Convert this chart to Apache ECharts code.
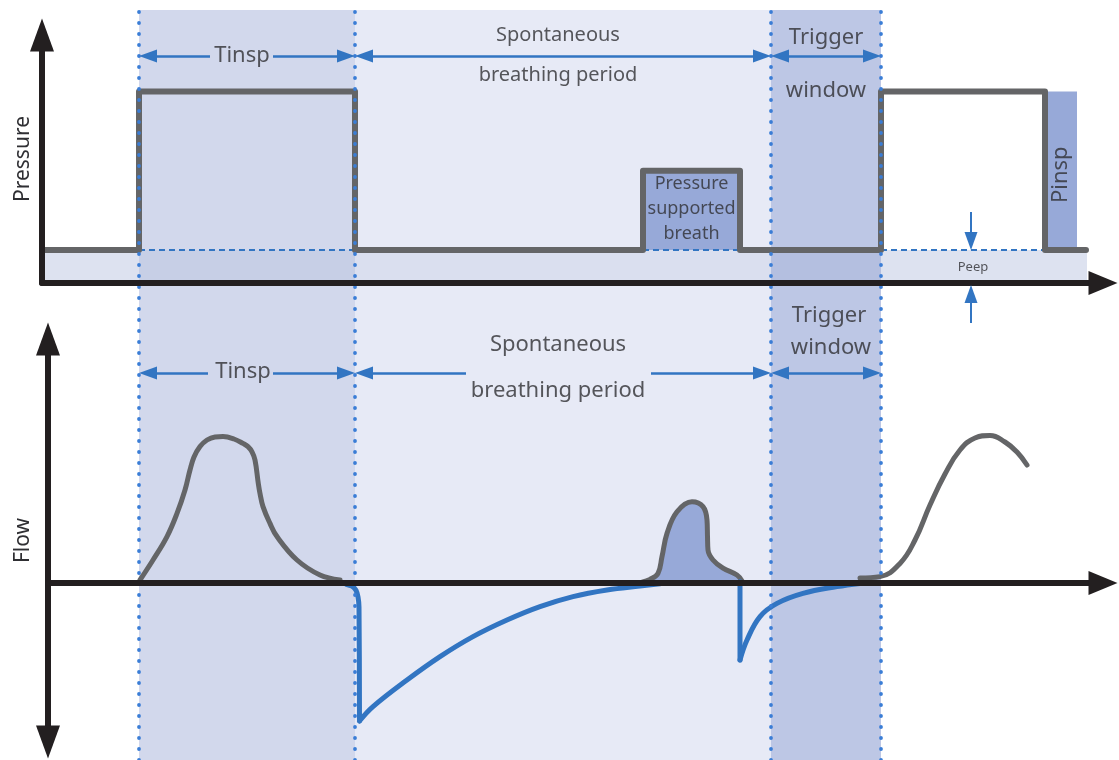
<!DOCTYPE html>
<html>
<head>
<meta charset="utf-8">
<title>Pressure and flow</title>
<script src="https://cdn.jsdelivr.net/npm/echarts@6/dist/echarts.min.js"></script>
<style>
html, body { margin: 0; padding: 0; background: #fff; }
#main { width: 1119px; height: 760px; }
</style>
</head>
<body>
<div id="main"></div>
<script>
// time in s, pressure in cmH2O, flow in L/min (schematic values)
var phaseEdges = [0.97, 3.13, 7.29, 8.39]; // Tinsp start, Tinsp end, trigger window start, trigger window end
var peep = 5;

var pressureT = [0.01, 0.97, 0.97, 3.13, 3.13, 6.01, 6.01, 6.98, 6.98, 8.39, 8.39, 10.03, 10.03, 10.44];
var pressureV = [5, 5, 29, 29, 5, 5, 17, 17, 5, 5, 29, 29, 5, 5];

var psBox = [6.01, 6.98, 17];     // pressure supported breath: from, to, level
var pinspBar = [10.03, 10.35, 29];
var peepBandEnd = 10.45;
var peepMarkT = 9.29;

var mandFlow = [[0.98, 0.75], [1.11, 5.75], [1.25, 11.6], [1.35, 17.4], [1.43, 23.25], [1.48, 28.25],
    [1.52, 31.5], [1.58, 34.1], [1.65, 35.75], [1.73, 36.5], [1.81, 36.6], [1.92, 36.0], [2.01, 34.9],
    [2.06, 34.1], [2.10, 32.8], [2.13, 30.75], [2.163, 24.9], [2.18, 22.4], [2.21, 19.1], [2.28, 14.9],
    [2.35, 11.6], [2.55, 5.75], [2.78, 2], [2.98, 0.75]];
var expDrop1 = [[3.04, -0.3], [3.10, -0.8], [3.14, -1.8], [3.16, -3.5], [3.17, -6], [3.175, -34.5]];
var expFlow1 = [[3.175, -34.5], [3.31, -30.9], [3.65, -24.25], [3.98, -18.4], [4.31, -13.4], [4.65, -9.25],
    [4.98, -5.9], [5.31, -3.4], [5.65, -1.75], [5.98, -0.75], [6.18, -0.2]];
var psFlow = [[6.0, 0.2], [6.08, 0.9], [6.16, 2.4], [6.20, 6.6], [6.25, 12.4], [6.35, 17.8], [6.50, 20.3],
    [6.61, 19.1], [6.65, 15.75], [6.655, 11.6], [6.66, 8.25], [6.71, 5.75], [6.81, 3.7], [6.95, 2], [7.0, 0.5]];
var expDrop2 = [[6.98, 0.3], [6.98, -19.25]];
var expFlow2 = [[6.98, -19.25], [7.05, -14.25], [7.18, -8.4], [7.35, -5.1], [7.61, -2.6], [7.95, -0.9], [8.18, -0.1]];
var nextFlow = [[8.18, 1.25], [8.38, 1.6], [8.58, 4.9], [8.73, 10.75], [8.88, 19.5], [9.03, 27.25], [9.18, 33.25],
    [9.33, 36.25], [9.48, 36.9], [9.63, 35.25], [9.75, 32.75], [9.85, 29.5]];

// annotation texts: [text, t, value]
var topNotes = [['Tinsp', 2.00, 34.5], ['Spontaneous', 5.16, 37.6], ['breathing period', 5.16, 31.4],
    ['Trigger', 7.84, 37.1], ['window', 7.84, 29.1]];
var flowNotes = [['Tinsp', 2.01, 52.75], ['Spontaneous', 5.16, 59.5], ['breathing period', 5.16, 48],
    ['Trigger', 7.87, 66.75], ['window', 7.89, 58.75]];

var ink = '#2f2f33', grey = '#646567', blue = '#3275c2', dotBlue = '#3a7dd6', fillBlue = '#97a9d8', axisInk = '#231f20';
var font = '"Noto Sans", "DejaVu Sans", sans-serif';
var pad = 0.09;     // half an arrow head along time
var pPad = 1.36;    // half an arrow head along pressure

var chart = echarts.init(document.getElementById('main'));

function pairs(xs, ys) {
    return xs.map(function (x, i) { return [x, ys[i]]; });
}

function axisLineOf(symbols, size) {
    return {
        show: true, onZero: true, symbol: symbols, symbolSize: size,
        lineStyle: { color: axisInk, width: 6, cap: 'round' }
    };
}

function arrowSpan(y, x1, x2, a1, a2) {
    return [
        { coord: [x1, y], symbol: a1 ? 'triangle' : 'none' },
        { coord: [x2, y], symbol: a2 ? 'triangle' : 'none' }
    ];
}

function arrowSeries(gridIdx, data) {
    return {
        type: 'line', xAxisIndex: gridIdx, yAxisIndex: gridIdx, data: [], z: 6, silent: true,
        markLine: {
            z: 6, silent: true, animation: false,
            symbolSize: [13, 18],
            label: { show: false },
            lineStyle: { color: blue, width: 2.5, type: 'solid' },
            emphasis: { disabled: true },
            data: data
        }
    };
}

function noteSeries(gridIdx, items) {
    return {
        type: 'scatter', xAxisIndex: gridIdx, yAxisIndex: gridIdx, z: 7, clip: false, silent: true,
        symbolSize: 1, itemStyle: { color: 'transparent' },
        label: {
            show: true, position: 'inside', formatter: '{b}', color: ink,
            fontFamily: font, fontSize: 22
        },
        data: items
    };
}

function noteItem(n, size, extra) {
    var item = { name: n[0], value: [n[1], n[2]], label: { fontSize: size } };
    if (extra) {
        for (var k in extra) item.label[k] = extra[k];
    }
    return item;
}

function flowLine(data, color, smooth, extra) {
    var s = {
        type: 'line', xAxisIndex: 1, yAxisIndex: 1, data: data, smooth: smooth,
        symbol: 'none', z: 5, silent: true, clip: false,
        lineStyle: { color: color, width: 5, cap: 'round', join: 'round' }
    };
    if (extra) {
        for (var k in extra) s[k] = extra[k];
    }
    return s;
}

var e = phaseEdges;

var option = {
    animation: false,
    backgroundColor: '#ffffff',
    grid: [
        { left: 42, top: 35, width: 1061, height: 248, outerBoundsMode: 'none' },
        { left: 48, top: 339, width: 1055, height: 403, outerBoundsMode: 'none' },
        { left: 42, top: 10, width: 1061, height: 750, outerBoundsMode: 'none' }
    ],
    xAxis: [
        { type: 'value', gridIndex: 0, min: 0, max: 10.61, z: 6,
          axisLine: axisLineOf(['none', 'triangle'], [24, 29]),
          axisTick: { show: false }, axisLabel: { show: false }, splitLine: { show: false } },
        { type: 'value', gridIndex: 1, min: 0.06, max: 10.61, z: 6,
          axisLine: axisLineOf(['none', 'triangle'], [24, 29]),
          axisTick: { show: false }, axisLabel: { show: false }, splitLine: { show: false } },
        { type: 'value', gridIndex: 2, min: 0, max: 10.61, show: false }
    ],
    yAxis: [
        { type: 'value', gridIndex: 0, min: 0, max: 37.58, z: 6,
          axisLine: axisLineOf(['none', 'triangle'], [24, 33]),
          axisTick: { show: false }, axisLabel: { show: false }, splitLine: { show: false },
          name: 'Pressure', nameLocation: 'middle', nameRotate: 90, nameGap: 8,
          nameTextStyle: { color: ink, fontSize: 21, fontFamily: font } },
        { type: 'value', gridIndex: 1, min: -39.75, max: 61, z: 6,
          axisLine: axisLineOf(['triangle', 'triangle'], [24, 33]),
          axisTick: { show: false }, axisLabel: { show: false }, splitLine: { show: false },
          name: 'Flow', nameLocation: 'middle', nameRotate: 90, nameGap: 14,
          nameTextStyle: { color: ink, fontSize: 21, fontFamily: font } },
        { type: 'value', gridIndex: 2, min: 0, max: 1, show: false }
    ],
    series: [
        // phase bands and their dotted borders
        {
            type: 'line', xAxisIndex: 2, yAxisIndex: 2, data: [[0, 0]], symbol: 'none', z: 1, silent: true,
            lineStyle: { opacity: 0 },
            markArea: {
                z: 1, silent: true,
                data: [
                    [{ xAxis: e[0], itemStyle: { color: '#d2d8ec' } }, { xAxis: e[1] }],
                    [{ xAxis: e[1], itemStyle: { color: '#e7eaf6' } }, { xAxis: e[2] }],
                    [{ xAxis: e[2], itemStyle: { color: '#bdc7e5' } }, { xAxis: e[3] }]
                ]
            },
            markLine: {
                z: 6, silent: true, symbol: 'none', label: { show: false },
                lineStyle: { color: dotBlue, width: 3.8, type: [0.1, 10.9], cap: 'round' },
                emphasis: { disabled: true },
                data: e.map(function (x) { return { xAxis: x }; })
            }
        },
        // PEEP band below the baseline
        {
            type: 'line', xAxisIndex: 0, yAxisIndex: 0, data: [[0, 0]], symbol: 'none', z: 2, silent: true,
            lineStyle: { opacity: 0 },
            markArea: {
                z: 2, silent: true,
                data: [
                    [{ coord: [0, 0], itemStyle: { color: '#dde2f0' } }, { coord: [e[0], peep] }],
                    [{ coord: [e[0], 0], itemStyle: { color: 'rgba(80,100,170,0.08)' } }, { coord: [e[3], peep] }],
                    [{ coord: [e[3], 0], itemStyle: { color: '#dde2f0' } }, { coord: [peepBandEnd, peep] }]
                ]
            }
        },
        // dashed PEEP reference under each breath
        {
            type: 'line', xAxisIndex: 0, yAxisIndex: 0, data: [], z: 4, silent: true,
            markLine: {
                z: 4, silent: true, symbol: 'none', label: { show: false },
                lineStyle: { color: blue, width: 2, type: [6, 4] },
                emphasis: { disabled: true },
                data: [
                    [{ coord: [e[0], peep] }, { coord: [e[1], peep] }],
                    [{ coord: [psBox[0], peep] }, { coord: [psBox[1], peep] }],
                    [{ coord: [e[3], peep] }, { coord: [pinspBar[0], peep] }]
                ]
            }
        },
        // pressure curve
        {
            type: 'line', xAxisIndex: 0, yAxisIndex: 0, data: pairs(pressureT, pressureV),
            symbol: 'none', z: 5, silent: true,
            lineStyle: { color: grey, width: 6, cap: 'round', join: 'round' },
            markArea: {
                z: 3, silent: true,
                itemStyle: { color: fillBlue },
                data: [
                    [{ coord: [psBox[0], peep] }, { coord: [psBox[1], psBox[2]] }],
                    [{ coord: [pinspBar[0], peep] }, { coord: [pinspBar[1], pinspBar[2]] }]
                ]
            }
        },
        arrowSeries(0, [
            arrowSpan(34.4, e[0] + pad, 1.68, true, false),
            arrowSpan(34.4, 2.31, e[1] - pad, false, true),
            arrowSpan(34.4, e[1] + pad, e[2] - pad, true, true),
            arrowSpan(34.4, e[2] + pad, e[3] - pad, true, true)
        ]),
        // Peep arrows
        {
            type: 'line', xAxisIndex: 0, yAxisIndex: 0, z: 6, silent: true, clip: false, symbol: 'none',
            lineStyle: { color: blue, width: 2 },
            data: [[peepMarkT, 10.76], { value: [peepMarkT, peep + pPad], symbol: 'triangle', symbolSize: [13, 18], symbolRotate: 180, itemStyle: { color: blue } }]
        },
        {
            type: 'line', xAxisIndex: 0, yAxisIndex: 0, z: 6, silent: true, clip: false, symbol: 'none',
            lineStyle: { color: blue, width: 2 },
            data: [[peepMarkT, -6.06], { value: [peepMarkT, -0.3 - pPad], symbol: 'triangle', symbolSize: [13, 18], itemStyle: { color: blue } }]
        },
        noteSeries(0, topNotes.map(function (n) {
            return noteItem(n, n[0].length > 8 ? 20 : 22);
        }).concat([
            noteItem(['Pressure\nsupported\nbreath', (psBox[0] + psBox[1]) / 2, 11.3], 18, { lineHeight: 25 }),
            noteItem(['Pinsp', (pinspBar[0] + pinspBar[1]) / 2, 16.4], 22, { rotate: 90 }),
            noteItem(['Peep', peepMarkT + 0.02, 2.4], 13)
        ])),

        // flow curves
        flowLine(mandFlow, grey, 0.4),
        flowLine(expDrop1, blue, 0.3),
        flowLine(expFlow1, blue, 0.4),
        flowLine(psFlow, grey, 0.4, { areaStyle: { color: fillBlue, opacity: 1 } }),
        flowLine(expDrop2, blue, false),
        flowLine(expFlow2, blue, 0.4),
        flowLine(nextFlow, grey, 0.45),
        arrowSeries(1, [
            arrowSpan(52.5, e[0] + pad, 1.66, true, false),
            arrowSpan(52.5, 2.31, e[1] - pad, false, true),
            arrowSpan(52.5, e[1] + pad, 4.24, true, false),
            arrowSpan(52.5, 6.09, e[2] - pad, false, true),
            arrowSpan(52.5, e[2] + pad, e[3] - pad, true, true)
        ]),
        noteSeries(1, flowNotes.map(function (n) { return noteItem(n, 22); }))
    ]
};

chart.setOption(option);
</script>
</body>
</html>
